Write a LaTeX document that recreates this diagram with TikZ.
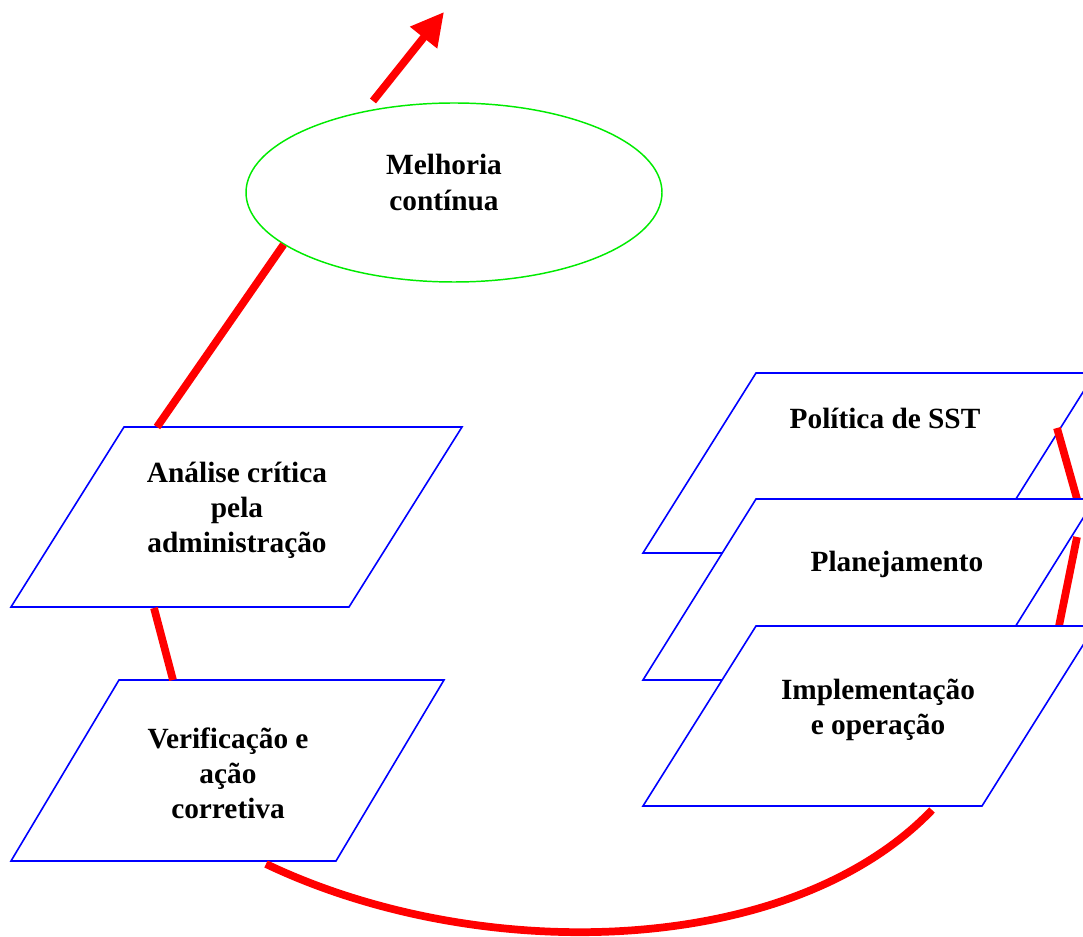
\documentclass[tikz,border=0pt]{standalone}
\usepackage{fontspec}
\setmainfont{Liberation Serif}
\usetikzlibrary{shapes.geometric,arrows.meta}

\definecolor{loopred}{RGB}{255,0,0}
\definecolor{slabblue}{RGB}{0,0,255}
\definecolor{ringgreen}{RGB}{0,235,0}

% slanted box: name, top-left x, top y, width, slant, height
\newcommand\slab[6]{%
  \draw[slabline] (#2,#3) coordinate (#1-tl) -- ++(#4,0) coordinate (#1-tr)
    -- ++(-#5,#6) coordinate (#1-br) -- ++(-#4,0) coordinate (#1-bl) -- cycle;}

\begin{document}
\begin{tikzpicture}[x=0.75pt,y=-0.75pt,
  slabline/.style={draw=slabblue,line width=1.2pt,fill=white,line join=miter},
  flow/.style={draw=loopred,line width=5.8pt},
  label/.style={font=\bfseries\fontsize{22}{26.5}\selectfont,align=center,inner sep=0pt,anchor=base},
  ring/.style={draw=ringgreen,line width=1.1pt,ellipse,inner sep=0pt,
    minimum width=312pt,minimum height=134.25pt}]
\useasboundingbox (0,0) rectangle (1083,937);
\clip (0,0) rectangle (1083,937);

% continuous improvement ring and outgoing arrow
% (label nodes sit on the baseline of their last line)
\node[ring] (ring) at (454,192.5) {};
\node[label,font=\bfseries\fontsize{22}{27}\selectfont] (tRing) at (444,211) {Melhoria\\contínua};
\coordinate (arrowStart) at (373,101);
\coordinate (arrowEnd) at (444,12);
\draw[flow,-{Triangle[length=24.6pt,width=24.6pt]}] (arrowStart) -- (arrowEnd);

% left column
\slab{rev}{124}{427}{338}{113}{180}
\node[label] (tRev) at (237,553) {Análise crítica\\pela\\administração};
\slab{chk}{119}{680}{325}{108}{181}
\node[label] (tChk) at (228,819) {Verificação e\\ação\\corretiva};

% right stack
\slab{pol}{756}{373}{339}{113}{180}
\node[label] (tPol) at (885,429) {Política de SST};
\coordinate (polOut) at (1057,428);
\coordinate (plaIn) at (1077,499);
\draw[flow] (polOut) -- (plaIn);
\slab{pla}{756}{499}{339}{113}{181}
\node[label] (tPla) at (897,572) {Planejamento};
\coordinate (plaOut) at (1077,537);
\coordinate (impIn) at (1059,626);
\draw[flow] (plaOut) -- (impIn);
\slab{imp}{756}{626}{339}{113}{180}
\node[label] (tImp) at (878,735) {Implementação\\e operação};

% connectors between stages
\coordinate (revTop) at (157,427);
\draw[flow] (revTop) -- (ring.197.5);
\coordinate (revBot) at (154,608);
\coordinate (chkTop) at (173,680);
\draw[flow] (revBot) -- (chkTop);
\coordinate (chkBot) at (266,864);
\coordinate (impBot) at (932,810);
\draw[flow] (chkBot) .. controls (480,966) and (790,958) .. (impBot);
\end{tikzpicture}
\end{document}
